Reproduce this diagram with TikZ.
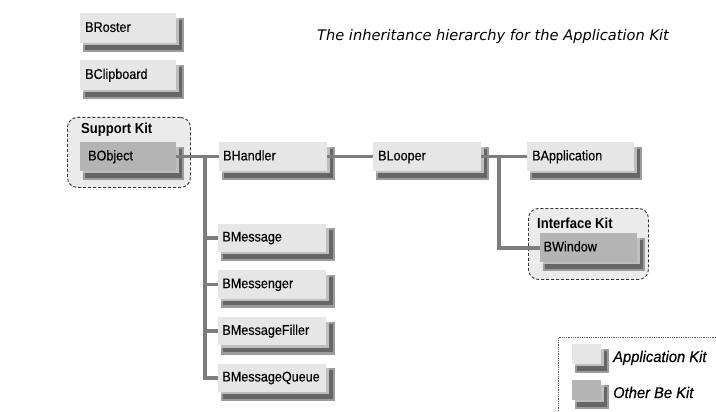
\documentclass[tikz,border=0pt]{standalone}
\usepackage{fontspec}
\newfontfamily\boxfont[FakeStretch=0.9, FakeBold=0.35]{Liberation Sans}
\newfontfamily\boldboxfont[FakeStretch=0.9]{Liberation Sans Bold}
\newfontfamily\legfont[FakeStretch=0.95, FakeBold=0.3]{Liberation Sans Italic}
\newfontfamily\titlefont{DejaVu Sans}
\pgfdeclarelayer{groups}
\pgfdeclarelayer{shadows}
\pgfdeclarelayer{lines}
\pgfsetlayers{groups,shadows,lines,main}
\definecolor{appfill}{HTML}{E6E6E6}
\definecolor{otherfill}{HTML}{B4B4B4}
\definecolor{groupfill}{HTML}{EBEBEB}
\definecolor{groupline}{HTML}{333333}
\definecolor{linegray}{HTML}{7D7D7D}
\definecolor{shouter}{HTML}{9C9C9C}
\definecolor{shcore}{HTML}{666666}
\definecolor{shinner}{HTML}{BEBEBE}
\definecolor{legline}{HTML}{555555}
\tikzset{
  boxbase/.style={inner sep=0pt, anchor=north west, draw=none},
  appkit/.style={boxbase, fill=appfill},
  otherkit/.style={boxbase, fill=otherfill},
  boxtext/.style={anchor=base west, inner sep=0pt, text=black,
    font=\boxfont\fontsize{14}{16}\selectfont},
  grouplabel/.style={anchor=base west, inner sep=0pt, text=black,
    font=\boldboxfont\fontsize{14.5}{17}\selectfont},
  legtext/.style={anchor=base west, inner sep=0pt, text=black,
    font=\legfont\fontsize{15.5}{18}\selectfont},
  kitgroup/.style={draw=groupline, fill=groupfill, dash pattern=on 3pt off 2pt,
    line width=0.9pt, rounded corners=10pt, inner sep=0pt, anchor=north west},
  conn/.style={draw=linegray, line width=3.6pt},
  shadowouter/.style={fill=shouter},
  shadowcore/.style={fill=shcore},
  shadowinner/.style={fill=shinner},
}
\newcommand\shadowof[1]{%
  \begin{pgfonlayer}{shadows}
    \fill[shadowouter] ([shift={(3pt,-5pt)}]#1.north west) rectangle ([shift={(8pt,-9pt)}]#1.south east);
    \fill[shadowcore] ([shift={(5pt,-7pt)}]#1.north west) rectangle ([shift={(6pt,-6.5pt)}]#1.south east);
    \fill[shadowinner] ([shift={(3pt,-5pt)}]#1.north west) rectangle ([shift={(2.3pt,-2pt)}]#1.south east);
  \end{pgfonlayer}}
% #1 inset, #2 style, #3 name, #4 x, #5 y, #6 w, #7 h, #8 text
\newcommand\kitbox[8][5]{%
  \node[#2, minimum width=#6pt, minimum height=#7pt] (#3) at (#4,#5) {};
  \shadowof{#3}
  \node[boxtext] (#3-t) at ([shift={(#1pt,-3.7pt)}]#3.west) {#8};}
\newcommand\swatch[6]{%
  \node[#1, minimum width=#5pt, minimum height=#6pt] (#2) at (#3,#4) {};
  \shadowof{#2}}
\begin{document}
\begin{tikzpicture}[x=1pt,y=-1pt]
\useasboundingbox (0,0) rectangle (716,412);
\clip (0,0) rectangle (716,412);

% title
\node[anchor=base west, inner sep=0pt, font=\titlefont\itshape\fontsize{14.6}{17}\selectfont]
  (title) at (317,41) {The inheritance hierarchy for the Application Kit};

% kit groups
\begin{pgfonlayer}{groups}
  \node[kitgroup, minimum width=123pt, minimum height=70pt] (supportkit) at (67,117) {};
  \node[kitgroup, minimum width=120pt, minimum height=71pt] (interfacekit) at (528,208) {};
\end{pgfonlayer}
\node[grouplabel] (supportkit-t) at (81,134) {Support Kit};
\node[grouplabel] (interfacekit-t) at (537,228) {Interface Kit};

% boxes
\kitbox{appkit}{BRoster}{80}{13}{96}{30}{BRoster}
\kitbox{appkit}{BClipboard}{80}{60}{96}{30}{BClipboard}
\kitbox[8]{otherkit}{BObject}{80}{142}{96}{29}{BObject}
\kitbox[4]{appkit}{BHandler}{219}{142}{108}{29}{BHandler}
\kitbox{appkit}{BLooper}{373}{142}{108}{29}{BLooper}
\kitbox{appkit}{BApplication}{527}{142}{107}{29}{BApplication}
\kitbox[3.5]{otherkit}{BWindow}{540}{233}{97}{29}{BWindow}
\kitbox[4.5]{appkit}{BMessage}{217.7}{223.3}{108.5}{28.5}{BMessage}
\kitbox[4.5]{appkit}{BMessenger}{217.7}{270}{108.5}{28.5}{BMessenger}
\kitbox[4.5]{appkit}{BMessageFiller}{217.7}{316.7}{108.5}{28.5}{BMessageFiller}
\kitbox[4.5]{appkit}{BMessageQueue}{217.7}{363.3}{108.5}{28.5}{BMessageQueue}

% connectors
\coordinate (trunkA) at (204.7,0);
\coordinate (trunkB) at (499,0);
\begin{pgfonlayer}{lines}
  \draw[conn] (BObject.east) -- (BHandler.west);
  \draw[conn] (BHandler.east) -- (BLooper.west);
  \draw[conn] (BLooper.east) -- (BApplication.west);
  \draw[conn] (BObject.east -| trunkA) |- (BMessageQueue.west);
  \foreach \n in {BMessage,BMessenger,BMessageFiller}
    \draw[conn] (trunkA |- \n.west) -- (\n.west);
  \draw[conn] (BLooper.east -| trunkB) |- (BWindow.west);
\end{pgfonlayer}

% legend
\node[draw=legline, densely dotted, line width=0.8pt, inner sep=0pt, anchor=north west,
  minimum width=180pt, minimum height=100pt] (legend) at (558,337) {};
\swatch{appkit}{legapp}{572}{344}{29}{20}
\swatch{otherkit}{legother}{572}{380}{29}{20}
\node[legtext] (legapp-t) at (613,362) {Application Kit};
\node[legtext] (legother-t) at (613,398) {Other Be Kit};
\end{tikzpicture}
\end{document}
